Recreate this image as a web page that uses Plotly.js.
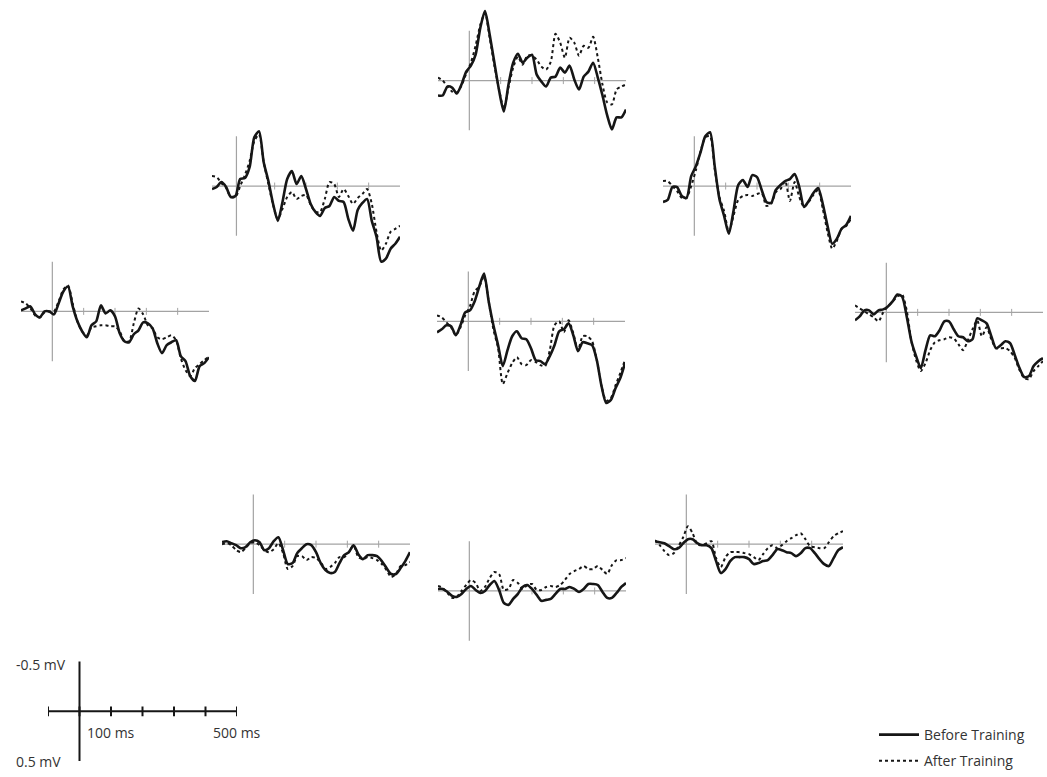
<!DOCTYPE html>
<html><head><meta charset="utf-8">
<script src="https://cdn.plot.ly/plotly-3.0.1.min.js"></script>
<style>html,body{margin:0;padding:0;background:#fff;}#chart{width:1047px;height:777px;}</style>
</head><body><div id="chart"></div>
<script>
// time (ms) shared by all electrodes
const T = [-100,-85,-70,-55,-40,-25,-10,5,20,35,50,65,80,95,110,125,140,155,170,185,200,215,230,245,260,275,290,305,320,335,350,365,380,395,410,425,440,455,470,485,500];

// amplitudes (mV, negative up)
const fzBefore = [0.15,0.15,0.06,0.07,0.13,0.04,-0.09,-0.15,-0.26,-0.53,-0.70,-0.46,-0.18,0.10,0.31,0.04,-0.18,-0.27,-0.18,-0.23,-0.26,-0.06,0.01,0.06,-0.03,-0.04,-0.13,-0.08,-0.15,-0.01,0.09,-0.04,-0.09,-0.18,-0.03,0.15,0.35,0.49,0.37,0.37,0.29];
const fzAfter  = [-0.03,0.00,0.06,0.11,0.12,0.05,-0.07,-0.18,-0.35,-0.56,-0.68,-0.43,-0.15,0.09,0.28,0.07,-0.13,-0.24,-0.16,-0.25,-0.25,-0.21,-0.14,-0.11,-0.19,-0.47,-0.38,-0.23,-0.43,-0.38,-0.25,-0.35,-0.33,-0.44,-0.23,0.04,0.22,0.24,0.09,0.06,0.04];

const f3Before = [0.03,0.01,-0.04,0.01,0.11,0.10,-0.07,-0.08,-0.19,-0.49,-0.55,-0.24,-0.05,0.18,0.35,0.16,-0.07,-0.15,-0.02,-0.10,0.03,0.18,0.26,0.30,0.22,0.20,0.11,0.15,0.16,0.33,0.45,0.24,0.17,0.13,0.35,0.51,0.76,0.73,0.63,0.58,0.51];
const f3After  = [-0.10,-0.09,-0.03,0.02,0.11,0.11,0.00,-0.11,-0.25,-0.45,-0.52,-0.24,-0.02,0.19,0.33,0.23,0.11,0.06,0.13,0.10,0.09,0.19,0.26,0.26,0.13,-0.04,-0.02,0.11,0.03,0.10,0.18,0.12,0.08,0.03,0.18,0.46,0.65,0.58,0.46,0.43,0.40];

const f4Before = [0.16,0.14,0.01,0.01,0.10,0.12,-0.10,-0.20,-0.34,-0.50,-0.54,-0.20,0.13,0.30,0.48,0.25,-0.01,-0.06,0.01,-0.11,-0.09,0.04,0.16,0.17,0.04,-0.01,-0.05,-0.07,-0.12,0.01,0.21,0.15,0.07,0.02,0.18,0.40,0.58,0.53,0.43,0.39,0.30];
const f4After  = [-0.05,-0.05,0.00,0.05,0.12,0.12,0.00,-0.16,-0.35,-0.49,-0.50,-0.17,0.11,0.25,0.46,0.30,0.14,0.10,0.09,0.10,0.08,0.07,0.20,0.18,0.06,0.03,-0.05,0.15,-0.04,0.11,0.21,0.16,0.09,0.04,0.23,0.46,0.63,0.55,0.43,0.40,0.33];

const t7Before = [-0.01,-0.03,-0.05,0.03,0.06,0.00,0.00,0.03,-0.08,-0.20,-0.25,-0.05,0.10,0.20,0.26,0.14,0.10,-0.06,0.02,-0.01,0.05,0.22,0.30,0.31,0.23,0.19,0.11,0.12,0.17,0.32,0.42,0.34,0.31,0.29,0.45,0.50,0.65,0.70,0.55,0.52,0.46];
const t7After  = [-0.10,-0.08,-0.03,0.04,0.06,0.01,0.00,0.00,-0.10,-0.22,-0.26,-0.08,0.10,0.20,0.24,0.16,0.15,0.14,0.14,0.15,0.15,0.20,0.30,0.30,0.12,-0.03,0.03,0.14,0.17,0.26,0.28,0.26,0.24,0.29,0.47,0.59,0.65,0.57,0.53,0.49,0.45];

const czBefore = [0.11,0.08,0.04,0.05,0.14,0.04,-0.09,-0.11,-0.20,-0.35,-0.48,-0.20,0.04,0.24,0.45,0.29,0.15,0.10,0.17,0.18,0.27,0.39,0.40,0.43,0.35,0.24,0.10,0.08,0.02,0.14,0.30,0.21,0.22,0.24,0.39,0.65,0.82,0.79,0.67,0.57,0.42];
const czAfter  = [-0.06,-0.04,0.01,0.06,0.14,0.06,-0.06,-0.15,-0.30,-0.35,-0.45,-0.20,0.08,0.27,0.63,0.52,0.42,0.36,0.43,0.44,0.39,0.41,0.44,0.45,0.29,0.04,0.00,0.11,-0.01,0.12,0.29,0.15,0.15,0.20,0.39,0.65,0.80,0.77,0.64,0.52,0.39];

const t8Before = [0.08,0.04,-0.02,-0.02,0.02,-0.02,-0.03,-0.06,-0.11,-0.18,-0.16,0.04,0.29,0.44,0.56,0.38,0.23,0.24,0.18,0.09,0.09,0.17,0.24,0.25,0.29,0.27,0.06,0.08,0.11,0.24,0.36,0.33,0.29,0.31,0.43,0.56,0.65,0.64,0.54,0.49,0.46];
const t8After  = [-0.07,-0.04,-0.01,0.02,0.05,0.09,0.00,-0.06,-0.11,-0.16,-0.18,-0.02,0.29,0.48,0.59,0.51,0.38,0.30,0.28,0.27,0.25,0.26,0.32,0.38,0.28,0.17,0.08,0.24,0.15,0.27,0.36,0.36,0.36,0.39,0.46,0.58,0.66,0.67,0.59,0.54,0.49];

const p3Before = [-0.02,-0.03,-0.01,0.01,0.04,0.03,-0.02,-0.04,-0.02,0.06,0.04,-0.03,-0.07,0.06,0.20,0.19,0.09,0.04,0.00,0.01,0.08,0.19,0.26,0.29,0.28,0.19,0.11,0.08,0.01,0.10,0.15,0.11,0.11,0.12,0.17,0.24,0.30,0.30,0.24,0.17,0.08];
const p3After  = [0.00,-0.01,0.01,0.06,0.08,0.04,-0.01,-0.02,0.01,0.06,0.08,0.05,-0.01,0.09,0.25,0.22,0.12,0.12,0.16,0.13,0.14,0.18,0.25,0.23,0.19,0.13,0.13,0.08,0.01,0.13,0.15,0.13,0.14,0.16,0.20,0.26,0.33,0.30,0.22,0.21,0.18];

const pzBefore = [-0.02,-0.02,0.01,0.05,0.06,0.03,-0.02,-0.05,-0.01,0.02,0.00,-0.06,-0.10,-0.01,0.12,0.14,0.08,0.03,-0.04,-0.06,-0.02,0.04,0.10,0.09,0.08,0.03,-0.02,-0.02,-0.04,-0.02,0.01,-0.02,-0.07,-0.07,-0.06,0.01,0.07,0.07,0.02,-0.04,-0.08];
const pzAfter  = [-0.05,-0.03,0.02,0.07,0.06,0.00,-0.06,-0.11,-0.08,0.00,-0.04,-0.13,-0.19,-0.17,-0.01,-0.02,-0.11,-0.08,-0.02,-0.06,-0.07,-0.01,-0.01,-0.04,-0.05,-0.04,-0.06,-0.11,-0.17,-0.20,-0.22,-0.25,-0.22,-0.22,-0.25,-0.21,-0.17,-0.26,-0.31,-0.31,-0.33];

const p4Before = [-0.03,-0.02,-0.01,0.02,0.05,0.04,-0.01,-0.05,-0.05,-0.01,0.01,0.01,0.04,0.17,0.29,0.25,0.17,0.13,0.13,0.13,0.15,0.20,0.19,0.17,0.16,0.11,0.05,0.06,0.08,0.09,0.12,0.09,0.04,0.04,0.09,0.15,0.20,0.22,0.14,0.06,0.03];
const p4After  = [-0.04,0.01,0.07,0.11,0.09,0.02,-0.07,-0.18,-0.11,0.00,0.01,-0.01,-0.03,0.14,0.23,0.13,0.08,0.08,0.08,0.09,0.10,0.13,0.16,0.10,0.04,0.01,0.04,0.01,-0.03,-0.06,-0.09,-0.11,-0.05,0.02,0.03,0.04,0.04,-0.02,-0.08,-0.11,-0.13];

// axis reference marks
const axisSpan = [-100, 500];
const panelTicks = [100, 200, 300, 400];
const voltSpan = [-0.5, 0.5];
const scaleTicks = [-100, 0, 100, 200, 300, 400, 500];
const seriesNames = ['Before Training', 'After Training'];
const scaleLabels = ['-0.5 mV', '0.5 mV', '100 ms', '500 ms'];

// layout of the electrode panels (pixel placement)
const panels = [
  {before: fzBefore, after: fzAfter, left: 438, base: 81,  vline: 0},
  {before: f3Before, after: f3After, left: 212, base: 187, vline: -22},
  {before: f4Before, after: f4After, left: 663, base: 187, vline: 0},
  {before: t7Before, after: t7After, left: 21,  base: 313, vline: 0},
  {before: czBefore, after: czAfter, left: 437, base: 323, vline: 0},
  {before: t8Before, after: t8After, left: 855, base: 314, vline: 0},
  {before: p3Before, after: p3After, left: 222, base: 547, vline: 0},
  {before: pzBefore, after: pzAfter, left: 438, base: 594, vline: 0},
  {before: p4Before, after: p4After, left: 655, base: 547, vline: 0}
];

const W = 1047, H = 777, PW = 188;
const GRAY = '#a3a3a3', INK = '#161616';
const FONT = '"Open Sans", "Noto Sans", sans-serif';
const traces = [];
const layout = {
  width: W, height: H, margin: {l: 0, r: 0, t: 0, b: 0, pad: 0},
  paper_bgcolor: '#fff', plot_bgcolor: 'rgba(0,0,0,0)',
  font: {family: FONT, size: 14, color: '#333'},
  showlegend: true,
  legend: {x: 874 / W, xanchor: 'left', y: 1 - 723 / H, yanchor: 'top',
           bgcolor: 'rgba(0,0,0,0)', font: {family: FONT, size: 14, color: '#333'},
           traceorder: 'grouped', tracegroupgap: 5, itemwidth: 40},
  annotations: []
};

function axName(n) { return n === 1 ? '' : String(n); }

panels.forEach((p, i) => {
  const n = i + 1, s = axName(n);
  layout['xaxis' + s] = {domain: [p.left / W, (p.left + PW) / W], range: axisSpan.slice(), visible: false, fixedrange: true};
  layout['yaxis' + s] = {domain: [1 - (p.base + 90) / H, 1 - (p.base - 80) / H], range: [0.9, -0.8], visible: false, fixedrange: true};
  const xa = 'x' + s, ya = 'y' + s;
  traces.push({x: axisSpan, y: [0, 0], xaxis: xa, yaxis: ya, mode: 'lines', line: {color: GRAY, width: 1.2}, showlegend: false, hoverinfo: 'skip'});
  traces.push({x: [p.vline, p.vline], y: voltSpan, xaxis: xa, yaxis: ya, mode: 'lines', line: {color: GRAY, width: 1.2}, showlegend: false, hoverinfo: 'skip'});
  traces.push({x: panelTicks, y: panelTicks.map(() => 0), xaxis: xa, yaxis: ya, mode: 'markers',
               marker: {symbol: 'line-ns-open', size: 5, color: GRAY, line: {width: 1, color: GRAY}}, showlegend: false, hoverinfo: 'skip'});
  traces.push({x: T, y: p.after, xaxis: xa, yaxis: ya, mode: 'lines', name: seriesNames[1],
               line: {color: INK, width: 2, dash: 'dot', shape: 'spline', smoothing: 0.7},
               legendgroup: 'after', legendrank: 2, showlegend: i === 0});
  traces.push({x: T, y: p.before, xaxis: xa, yaxis: ya, mode: 'lines', name: seriesNames[0],
               line: {color: INK, width: 2.6, shape: 'spline', smoothing: 0.7},
               legendgroup: 'before', legendrank: 1, showlegend: i === 0});
});

// scale bar
const sN = panels.length + 1, sS = axName(sN);
layout['xaxis' + sS] = {domain: [48 / W, 237 / W], range: axisSpan.slice(), visible: false, fixedrange: true};
layout['yaxis' + sS] = {domain: [1 - 775 / H, 1 - 655 / H], range: [0.6, -0.6], visible: false, fixedrange: true};
traces.push({x: scaleTicks, y: scaleTicks.map(() => 0), xaxis: 'x' + sS, yaxis: 'y' + sS, mode: 'lines+markers',
             line: {color: INK, width: 2}, marker: {symbol: 'line-ns-open', size: 7, color: INK, line: {width: 2, color: INK}},
             showlegend: false, hoverinfo: 'skip'});
traces.push({x: [0, 0], y: voltSpan, xaxis: 'x' + sS, yaxis: 'y' + sS, mode: 'lines', line: {color: INK, width: 2},
             showlegend: false, hoverinfo: 'skip'});
const lab = {family: FONT, size: 14, color: '#333'};
layout.annotations.push({text: scaleLabels[0], x: 14 / W, y: 1 - 668 / H, xref: 'paper', yref: 'paper', xanchor: 'left', yanchor: 'middle', showarrow: false, font: lab});
layout.annotations.push({text: scaleLabels[1], x: 14 / W, y: 1 - 765 / H, xref: 'paper', yref: 'paper', xanchor: 'left', yanchor: 'middle', showarrow: false, font: lab});
layout.annotations.push({text: scaleLabels[2], x: 100, y: 0.21, xref: 'x' + sS, yref: 'y' + sS, xanchor: 'center', yanchor: 'middle', showarrow: false, font: lab});
layout.annotations.push({text: scaleLabels[3], x: 500, y: 0.21, xref: 'x' + sS, yref: 'y' + sS, xanchor: 'center', yanchor: 'middle', showarrow: false, font: lab});

Plotly.newPlot('chart', traces, layout, {staticPlot: true, displayModeBar: false});
</script></body></html>
